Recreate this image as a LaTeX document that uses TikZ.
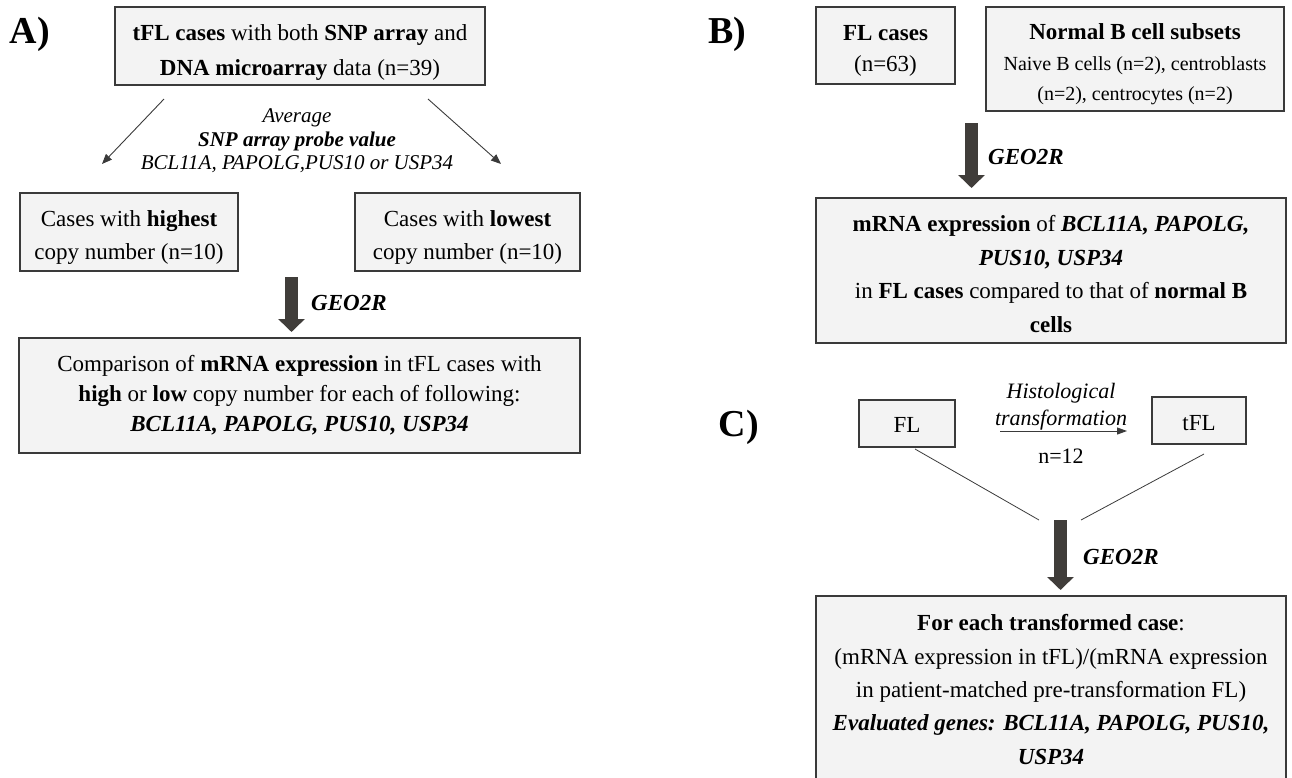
\documentclass[tikz,border=0pt]{standalone}
\usepackage{fontspec}
\setmainfont{Liberation Serif}
\usetikzlibrary{arrows.meta}
\definecolor{boxfill}{RGB}{243,243,243}
\definecolor{boxline}{RGB}{58,58,58}
\definecolor{bigar}{RGB}{64,61,58}
\begin{document}
\begin{tikzpicture}[x=1pt,y=-1pt,
  box/.style={draw=boxline, fill=boxfill, line width=1.4pt, inner sep=0pt},
  txt/.style={inner sep=0pt, align=center, font=\fontsize{23}{#1}\selectfont},
  panel/.style={font=\fontsize{38}{40}\selectfont\bfseries, inner sep=0pt},
  bigarrow/.style={draw=bigar, line width=13pt, -{Triangle[width=26pt,length=13pt]}},
  thinarrow/.style={draw=boxline, line width=0.9pt, -{Triangle[length=10pt,width=8pt]}},
  thinline/.style={draw=boxline, line width=0.8pt},
  geo/.style={font=\fontsize{23}{25}\selectfont\bfseries\itshape, inner sep=0pt, anchor=west}]
\useasboundingbox (0,0) rectangle (1292,777);
\clip (0,0) rectangle (1292,777);

% ---------------- A ----------------
\node[panel] (pA) at (30,34) {A)};
\node[box, minimum width=370pt, minimum height=78pt] (boxA) at (300,46) {};
\node[txt=35] (boxAt) at (300,52.5)
  {\textbf{tFL cases} with both \textbf{SNP array} and\\ \textbf{DNA microarray} data (n=39)};
\node[align=center, inner sep=0pt, font=\fontsize{21}{23.5}\selectfont] (lblA) at (297,141)
  {\textit{Average}\\ \textbf{\textit{SNP array probe value}}\\ \textit{BCL11A, PAPOLG,PUS10 or USP34}};
\coordinate (aL1) at (164,99);
\coordinate (aL2) at (102,164);
\coordinate (aR1) at (428,99);
\coordinate (aR2) at (501,164);
\draw[thinarrow] (aL1) -- (aL2);
\draw[thinarrow] (aR1) -- (aR2);
\node[box, minimum width=218pt, minimum height=78pt] (high) at (129,232) {};
\node[txt=33] (hight) at (129,237.5) {Cases with \textbf{highest}\\ copy number (n=10)};
\node[box, minimum width=225pt, minimum height=78pt] (low) at (467.5,232) {};
\node[txt=33] (lowt) at (467.5,237.5) {Cases with \textbf{lowest}\\ copy number (n=10)};
\coordinate (gA1) at (291.5,277);
\coordinate (gA2) at (291.5,332);
\draw[bigarrow] (gA1) -- (gA2);
\node[geo] (geoA) at (311,303) {GEO2R};
\node[box, minimum width=561pt, minimum height=115pt] (cmp) at (299.5,395.5) {};
\node[txt=30] (cmpt) at (299.5,395)
  {Comparison of \textbf{mRNA expression} in tFL cases with\\
   \textbf{high} or \textbf{low} copy number for each of following:\\
   \textbf{\textit{BCL11A, PAPOLG, PUS10, USP34}}};

% ---------------- B ----------------
\node[panel] (pB) at (727,34) {B)};
\node[box, minimum width=139pt, minimum height=77pt] (flc) at (885.5,45.5) {};
\node[txt=31] (flct) at (885.5,50.5) {\textbf{FL cases}\\ (n=63)};
\node[box, minimum width=298pt, minimum height=104pt] (norm) at (1135,59) {};
\node[inner sep=0pt, align=center, font=\fontsize{20}{30.5}\selectfont] (normt) at (1135,64.5)
  {{\fontsize{23}{30.5}\selectfont\textbf{Normal B cell subsets}}\\ Naive B cells (n=2), centroblasts\\ (n=2), centrocytes (n=2)};
\coordinate (gB1) at (971.5,123);
\coordinate (gB2) at (971.5,188);
\draw[bigarrow] (gB1) -- (gB2);
\node[geo] (geoB) at (988,157) {GEO2R};
\node[box, minimum width=470pt, minimum height=145pt] (mrna) at (1051,270.5) {};
\node[txt=33.7] (mrnat) at (1051,274)
  {\textbf{mRNA expression} of \textbf{\textit{BCL11A, PAPOLG,}}\\
   \textbf{\textit{PUS10, USP34}}\\
   in \textbf{FL cases} compared to that of \textbf{normal B}\\
   \textbf{cells}};

% ---------------- C ----------------
\node[panel] (pC) at (739,427) {C)};
\node[box, minimum width=96pt, minimum height=47pt] (fl) at (907,423.5) {};
\node[txt=30] (flt) at (907,424.5) {FL};
\node[box, minimum width=94pt, minimum height=47pt] (tfl) at (1199,420.5) {};
\node[txt=30] (tflt) at (1199,423) {tFL};
\coordinate (h1) at (1000,431);
\coordinate (h2) at (1127,431);
\draw[draw=boxline, line width=0.9pt, -{Triangle[length=10pt,width=7pt]}] (h1) -- (h2);
\node[align=center, inner sep=0pt, font=\fontsize{22}{27}\selectfont\itshape] (histo) at (1061,407)
  {Histological\\ transformation};
\node[inner sep=0pt, font=\fontsize{22}{24}\selectfont] (n12) at (1061,456) {n=12};
\coordinate (l1a) at (915,449);
\coordinate (l1b) at (1039,520);
\coordinate (l2a) at (1204,454);
\coordinate (l2b) at (1081,520);
\draw[thinline] (l1a) -- (l1b);
\draw[thinline] (l2a) -- (l2b);
\coordinate (gC1) at (1060.5,520);
\coordinate (gC2) at (1060.5,590);
\draw[bigarrow] (gC1) -- (gC2);
\node[geo] (geoC) at (1083,557) {GEO2R};
\node[box, minimum width=470pt, minimum height=186pt] (final) at (1051,689) {};
\node[txt=33.3] (finalt) at (1051,689.5)
  {\textbf{For each transformed case}:\\
   (mRNA expression in tFL)/(mRNA expression\\
   in patient-matched pre-transformation FL)\\
   \textbf{\textit{Evaluated genes: BCL11A, PAPOLG, PUS10,}}\\
   \textbf{\textit{USP34}}};
\end{tikzpicture}
\end{document}
